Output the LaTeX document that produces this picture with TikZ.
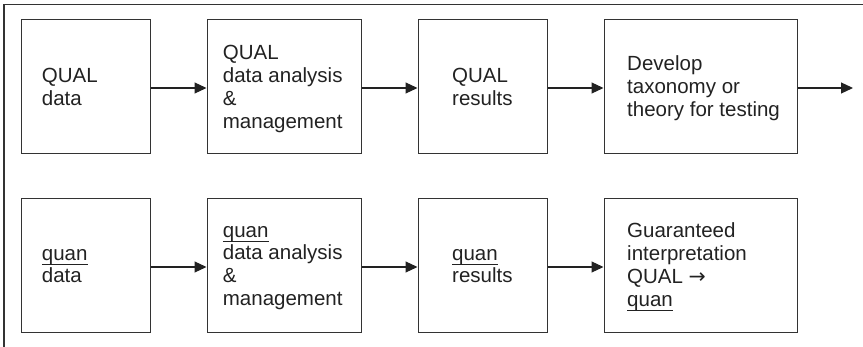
\documentclass[tikz,border=0pt]{standalone}
\usepackage{fontspec}
\setmainfont{Liberation Sans}
\newfontfamily\arrowfont{DejaVu Sans}
\usetikzlibrary{arrows.meta}
\definecolor{ink}{HTML}{222222}
\definecolor{edge}{HTML}{333333}
% word with a thin rule just below its baseline
\newcommand\ulword[1]{\setbox0\hbox{#1}\rlap{\rule[-4.6pt]{\wd0}{1pt}}#1}
\tikzset{
  stagebox/.style={draw=edge, line width=1pt, inner sep=0pt},
  stagetext/.style={anchor=west, align=left, inner sep=0pt, text=ink,
    font=\fontsize{20.5}{22.8}\selectfont},
  flow/.style={draw=ink, line width=1.2pt, -{Triangle[length=12pt,width=11pt]}},
  frame/.style={draw=edge, line width=1.5pt}
}
\begin{document}
\begin{tikzpicture}[x=1pt,y=-1pt]
\useasboundingbox (0,0) rectangle (863,347);
% open frame: top and left edges only
\coordinate (ftl) at (4,4.5);
\coordinate (ftr) at (863,4.5);
\coordinate (fbl) at (4,347);
\draw[frame] (ftr) -- (ftl) -- (fbl);

% boxes, top row
\node[stagebox, minimum width=129pt, minimum height=134pt] (a1) at (85.5,87) {};
\node[stagebox, minimum width=154pt, minimum height=134pt] (a2) at (284,87) {};
\node[stagebox, minimum width=129pt, minimum height=134pt] (a3) at (482.5,87) {};
\node[stagebox, minimum width=193pt, minimum height=134pt] (a4) at (700.5,87) {};
% boxes, bottom row
\node[stagebox, minimum width=129pt, minimum height=134pt] (b1) at (85.5,266) {};
\node[stagebox, minimum width=154pt, minimum height=134pt] (b2) at (284,266) {};
\node[stagebox, minimum width=129pt, minimum height=134pt] (b3) at (482.5,266) {};
\node[stagebox, minimum width=193pt, minimum height=134pt] (b4) at (700.5,266) {};

% texts, top row
\node[stagetext] (ta1) at (41.7,87) {QUAL\\data};
\node[stagetext] (ta2) at (222.7,89) {QUAL\\data analysis\\\&\\management};
\node[stagetext] (ta3) at (452,87) {QUAL\\results};
\node[stagetext] (ta4) at (627,88) {Develop\\taxonomy or\\theory for testing};
% texts, bottom row
\node[stagetext] (tb1) at (41.7,266) {\ulword{quan}\\data};
\node[stagetext] (tb2) at (222.7,268) {\ulword{quan}\\data analysis\\\&\\management};
\node[stagetext] (tb3) at (452,266) {\ulword{quan}\\results};
\node[stagetext] (tb4) at (627,267) {Guaranteed\\interpretation\\QUAL {\arrowfont →}\\\ulword{quan}};

% connectors
\coordinate (out) at (853,88);
\draw[flow] (a1.east |- 0,88) -- (a2.west |- 0,88);
\draw[flow] (a2.east |- 0,88) -- (a3.west |- 0,88);
\draw[flow] (a3.east |- 0,88) -- (a4.west |- 0,88);
\draw[flow] (a4.east |- 0,88) -- (out);
\draw[flow] (b1.east |- 0,267) -- (b2.west |- 0,267);
\draw[flow] (b2.east |- 0,267) -- (b3.west |- 0,267);
\draw[flow] (b3.east |- 0,267) -- (b4.west |- 0,267);
\end{tikzpicture}
\end{document}
